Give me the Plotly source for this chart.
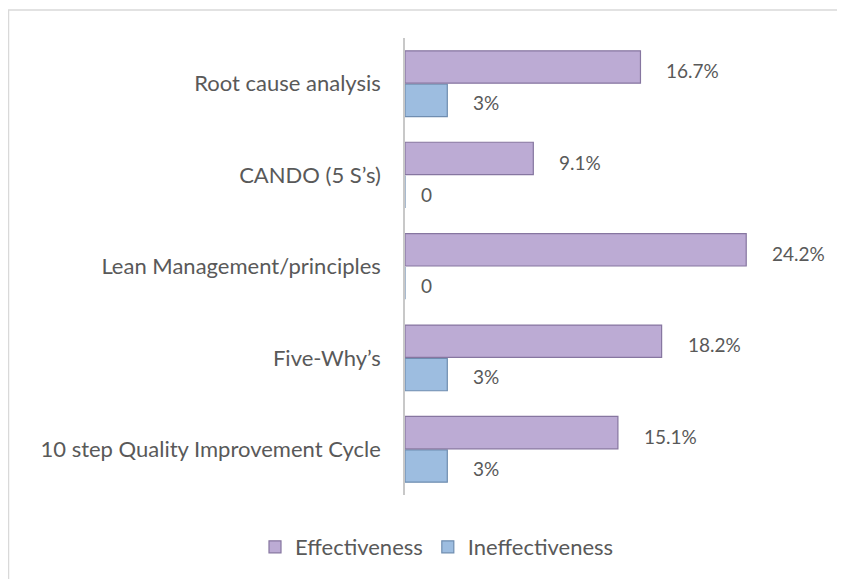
import plotly.graph_objects as go

categories = ["10 step Quality Improvement Cycle", "Five-Why\u2019s", "Lean Management/principles",
              "CANDO (5 S\u2019s)", "Root cause analysis"]
effectiveness = [15.1, 18.2, 24.2, 9.1, 16.7]
ineffectiveness = [3, 3, 0, 0, 3]
eff_labels = ["15.1%", "18.2%", "24.2%", "9.1%", "16.7%"]
ineff_labels = ["3%", "3%", "0", "0", "3%"]

FONT = "Lato, 'Open Sans', sans-serif"
TXT = "#595959"

fig = go.Figure()
fig.add_trace(go.Bar(
    y=categories, x=ineffectiveness, orientation="h", name="Ineffectiveness",
    marker=dict(color="#9dbde0", line=dict(color="#6f8db0", width=1.2)),
    legendrank=2,
))
fig.add_trace(go.Bar(
    y=categories, x=effectiveness, orientation="h", name="Effectiveness",
    marker=dict(color="#bcabd4", line=dict(color="#8676a0", width=1.2)),
    legendrank=1,
))

annotations = []
for cat, v, lab in zip(categories, effectiveness, eff_labels):
    annotations.append(dict(x=v, y=cat, text=lab, showarrow=False, xanchor="left",
                            xshift=24 if v else 15, yshift=13,
                            font=dict(family=FONT, size=19, color=TXT)))
for cat, v, lab in zip(categories, ineffectiveness, ineff_labels):
    annotations.append(dict(x=v, y=cat, text=lab, showarrow=False, xanchor="left",
                            xshift=24 if v else 14, yshift=-19,
                            font=dict(family=FONT, size=19, color=TXT)))

# page body has an 8px margin: figure pixel = window pixel - 8
OFF = 8
W, H = 845 - OFF, 579 - OFF
PLOT_L, PLOT_T, PLOT_R, PLOT_B = 405, 38, 828, 496   # window pixels
L, T = PLOT_L - OFF, PLOT_T - OFF
R = W - (PLOT_R - OFF)
B = H - (PLOT_B - OFF)
pw, ph = W - L - R, H - T - B
x0 = (0.5 - L) / pw
y1 = 1 + (T - 2) / ph

fig.update_layout(
    width=W, height=H,
    margin=dict(l=L, r=R, t=T, b=B),
    paper_bgcolor="white", plot_bgcolor="white",
    barmode="group", bargap=0.27, bargroupgap=0.03,
    font=dict(family=FONT, size=22, color=TXT),
    xaxis=dict(range=[0, 30], visible=False, fixedrange=True),
    yaxis=dict(showline=True, linecolor="#c8c8c8", linewidth=1.5, ticks="",
               showgrid=False, ticklabelstandoff=18, automargin=False,
               tickfont=dict(family=FONT, size=22, color=TXT)),
    legend=dict(orientation="h", x=(437 - PLOT_L) / pw, xanchor="center",
                y=(PLOT_B - 547) / ph, yanchor="middle",
                font=dict(family=FONT, size=22, color=TXT),
                itemwidth=30),
    annotations=annotations,
    shapes=[dict(type="rect", xref="paper", yref="paper", x0=x0, x1=1.2, y0=-0.5, y1=y1,
                 line=dict(color="#d9d9d9", width=1.5), layer="below")],
    showlegend=True,
)

fig.write_html("out.html")
